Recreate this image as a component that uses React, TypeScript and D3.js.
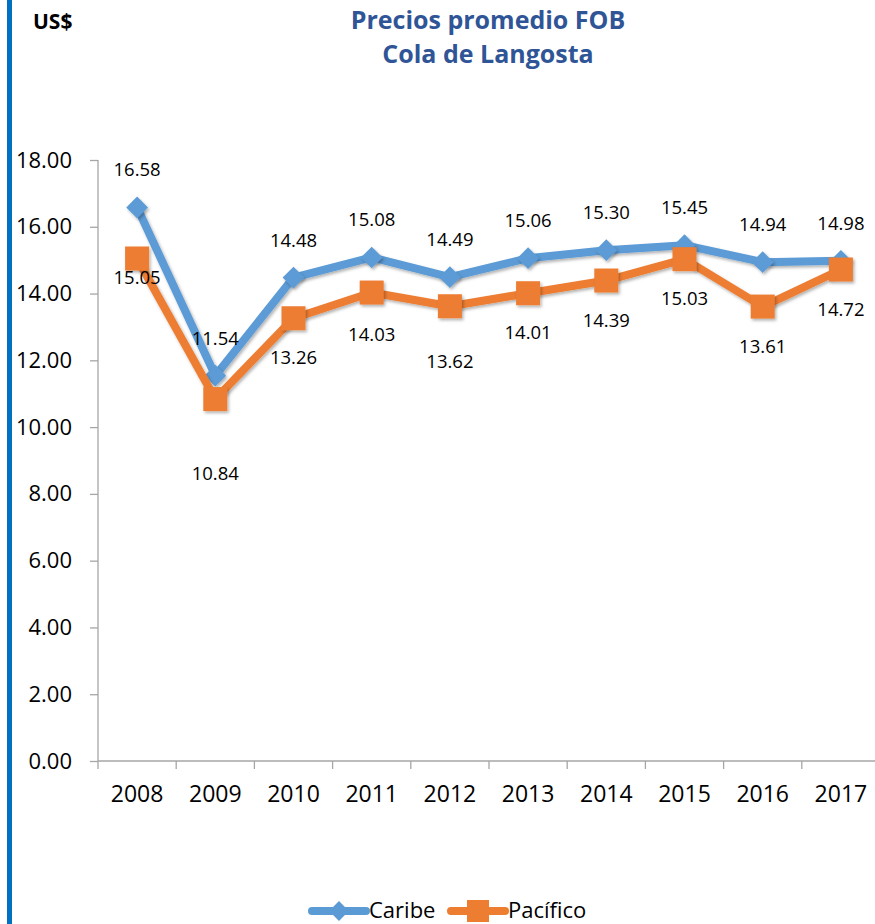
import React, { useEffect, useRef } from 'react';
import * as d3 from 'd3';

const years = ['2008', '2009', '2010', '2011', '2012', '2013', '2014', '2015', '2016', '2017'];
const caribe = [16.58, 11.54, 14.48, 15.08, 14.49, 15.06, 15.30, 15.45, 14.94, 14.98];
const pacifico = [15.05, 10.84, 13.26, 14.03, 13.62, 14.01, 14.39, 15.03, 13.61, 14.72];
const yTicks = [0, 2, 4, 6, 8, 10, 12, 14, 16, 18];
// extra downward nudge of some Pacífico labels (as placed in the original)
const pacificoNudge = [-20, 35, 0, 2, 16, 0, 0, 0, 0, 0];

const BLUE = '#5B9BD5';
const ORANGE = '#ED7D31';
const FONT = '"Open Sans", sans-serif';

export default function App() {
  const svgRef = useRef<SVGSVGElement | null>(null);

  useEffect(() => {
    if (!svgRef.current) return;
    const width = 875, height = 924;
    const svg = d3.select(svgRef.current);
    svg.selectAll('*').remove();

    const defs = svg.append('defs');
    const f = defs.append('filter').attr('id', 'shadow').attr('x', '-50%').attr('y', '-50%').attr('width', '200%').attr('height', '200%');
    f.append('feDropShadow').attr('dx', 1.5).attr('dy', 2).attr('stdDeviation', 1.5).attr('flood-color', '#000').attr('flood-opacity', 0.3);

    svg.append('rect').attr('width', width).attr('height', height).attr('fill', '#fff');
    // left blue bar
    svg.append('rect').attr('x', 7).attr('y', 0).attr('width', 5).attr('height', height).attr('fill', '#0070C0');

    const left = 98, right = 880, top = 160, bottom = 761;

    const x = d3.scaleBand().domain(years).range([left, right]);
    const y = d3.scaleLinear().domain([0, 18]).range([bottom, top]);
    const cx = (i: number) => x(years[i])! + x.bandwidth() / 2;

    // title
    svg.append('text').attr('x', 33).attr('y', 29).text('US$')
      .style('font-family', FONT).style('font-weight', 700).style('font-size', '21px').attr('fill', '#000');
    const title = svg.append('text').attr('text-anchor', 'middle')
      .style('font-family', FONT).style('font-weight', 700).style('font-size', '25px').attr('fill', '#2F5597');
    title.append('tspan').attr('x', 488).attr('y', 29).text('Precios promedio FOB');
    title.append('tspan').attr('x', 488).attr('y', 63).text('Cola de Langosta');

    // y axis
    const yAxis = svg.append('g').attr('transform', `translate(${left},0)`)
      .call(d3.axisLeft(y).tickValues(yTicks).tickFormat(d3.format('.2f')).tickSize(8).tickPadding(18));
    yAxis.select('.domain').attr('stroke', '#A6A6A6').attr('stroke-width', 1.3).attr('d', `M0,${top}V${bottom}`);
    yAxis.selectAll('.tick line').attr('stroke', '#A6A6A6').attr('stroke-width', 1.3);
    yAxis.selectAll('.tick text').style('font-family', FONT).style('font-size', '22px').attr('fill', '#000');

    // x axis
    const xAxis = svg.append('g').attr('transform', `translate(0,${bottom})`)
      .call(d3.axisBottom(x).tickSize(0).tickPadding(25));
    xAxis.select('.domain').attr('stroke', '#A6A6A6').attr('stroke-width', 1.3).attr('d', `M${left},0H${right}`);
    xAxis.selectAll('.tick text').style('font-family', FONT).style('font-size', '23px').attr('fill', '#000');
    svg.append('g').selectAll('line').data(d3.range(years.length + 1)).join('line')
      .attr('x1', i => left + i * x.bandwidth()).attr('x2', i => left + i * x.bandwidth())
      .attr('y1', bottom).attr('y2', bottom + 8).attr('stroke', '#A6A6A6').attr('stroke-width', 1.3);

    const line = d3.line<number>().x((_, i) => cx(i)).y(d => y(d));

    // Caribe
    svg.append('path').datum(caribe).attr('d', line).attr('fill', 'none').attr('stroke', BLUE)
      .attr('stroke-width', 8).attr('stroke-linejoin', 'round').attr('filter', 'url(#shadow)');
    svg.append('g').selectAll('path').data(caribe).join('path')
      .attr('d', d3.symbol(d3.symbolDiamond2, 300)())
      .attr('transform', (d, i) => `translate(${cx(i)},${y(d)})`)
      .attr('fill', BLUE).attr('filter', 'url(#shadow)');

    // Pacífico
    svg.append('path').datum(pacifico).attr('d', line).attr('fill', 'none').attr('stroke', ORANGE)
      .attr('stroke-width', 8).attr('stroke-linejoin', 'round').attr('filter', 'url(#shadow)');
    svg.append('g').selectAll('rect').data(pacifico).join('rect')
      .attr('x', (d, i) => cx(i) - 12).attr('y', d => y(d) - 12).attr('width', 24).attr('height', 24)
      .attr('fill', ORANGE).attr('filter', 'url(#shadow)');

    // labels
    svg.append('g').selectAll('text').data(caribe).join('text')
      .attr('x', (d, i) => cx(i)).attr('y', d => y(d) - 31).attr('text-anchor', 'middle')
      .style('font-family', FONT).style('font-size', '18.5px').attr('fill', '#000')
      .text(d => d.toFixed(2));
    svg.append('g').selectAll('text').data(pacifico).join('text')
      .attr('x', (d, i) => cx(i)).attr('y', (d, i) => y(d) + 46 + pacificoNudge[i]).attr('text-anchor', 'middle')
      .style('font-family', FONT).style('font-size', '18.5px').attr('fill', '#000')
      .text(d => d.toFixed(2));

    // legend
    const ly = 911;
    const leg = svg.append('g');
    leg.append('line').attr('x1', 312).attr('x2', 366).attr('y1', ly).attr('y2', ly)
      .attr('stroke', BLUE).attr('stroke-width', 8).attr('stroke-linecap', 'round');
    leg.append('path').attr('d', d3.symbol(d3.symbolDiamond2, 250)()).attr('transform', `translate(339,${ly})`).attr('fill', BLUE);
    leg.append('text').attr('x', 369).attr('y', ly + 7).text('Caribe')
      .style('font-family', FONT).style('font-size', '22px').attr('fill', '#000');
    leg.append('line').attr('x1', 451).attr('x2', 505).attr('y1', ly).attr('y2', ly)
      .attr('stroke', ORANGE).attr('stroke-width', 8).attr('stroke-linecap', 'round');
    leg.append('rect').attr('x', 467).attr('y', ly - 11).attr('width', 22).attr('height', 22).attr('fill', ORANGE);
    leg.append('text').attr('x', 508).attr('y', ly + 7).text('Pacífico')
      .style('font-family', FONT).style('font-size', '22px').attr('fill', '#000');
  }, []);

  return (
    <svg ref={svgRef} width={875} height={924}
      style={{ position: 'absolute', left: 0, top: 0, display: 'block' }} />
  );
}
